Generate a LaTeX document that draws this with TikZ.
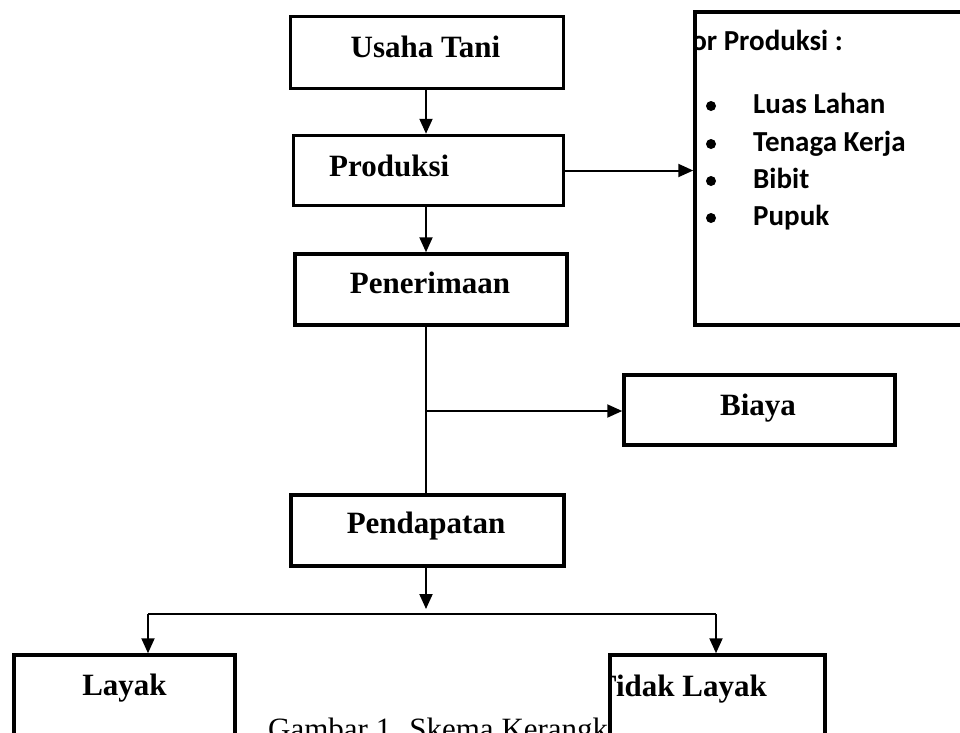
\documentclass[tikz,border=0pt]{standalone}
\usepackage{fontspec}
\setmainfont{Liberation Serif}
\newfontfamily\calfont{Carlito}
\usetikzlibrary{arrows.meta}
\tikzset{
  box/.style={draw, line width=3.5pt, fill=white, inner sep=0pt, rectangle},
  lbl/.style={font=\fontsize{31}{37}\selectfont\bfseries, inner sep=0pt, anchor=base},
  itm/.style={font=\calfont\fontsize{29}{34}\selectfont\bfseries, inner sep=0pt, anchor=base west},
  conn/.style={line width=2pt},
  arr/.style={line width=2pt, -{Triangle[length=15pt,width=13pt]}},
}
\begin{document}
\begin{tikzpicture}[x=1pt,y=-1pt]
\useasboundingbox (0,0) rectangle (960,732);
\clip (0,0) rectangle (960,732);
% boxes
\node[box, minimum width=273pt, minimum height=72pt] (ut) at (427,52.5) {};
\node[box, minimum width=270pt, minimum height=70pt] (prod) at (428.5,170.5) {};
\node[box, minimum width=272pt, minimum height=71pt] (pen) at (431,289.5) {};
\node[box, minimum width=273pt, minimum height=71pt] (pend) at (427.5,530.5) {};
\node[box, minimum width=271pt, minimum height=70pt] (biaya) at (759.5,410) {};
\node[box, minimum width=320pt, minimum height=313pt] (fak) at (855,168.5) {};
% labels
\node[lbl] (tut) at (425.5,57) {Usaha Tani};
\node[lbl, anchor=base west] (tprod) at (329,176) {Produksi};
\node[lbl] (tpen) at (430,293) {Penerimaan};
\node[lbl] (tpend) at (426,533) {Pendapatan};
\node[lbl] (tbiaya) at (758,415) {Biaya};
% faktor produksi content
\begin{scope}
\clip ([xshift=1.5pt]fak.north west) rectangle (fak.south east);
\node[itm, anchor=base east] (tfak) at (843,50) {Faktor Produksi :};
\end{scope}
\foreach \y/\t [count=\i] in {113/Luas Lahan,151/Tenaga Kerja,188/Bibit,225/Pupuk}{
  \fill (711,\y-7) circle (5pt);
  \node[itm] (it\i) at (753,\y) {\t};
}
% caption
\node[font=\fontsize{31}{37}\selectfont, inner sep=0pt, anchor=base west] (cap) at (268,739) {Gambar 1. Skema Kerangka};
% bottom boxes
\node[box, minimum width=221pt, minimum height=150pt] (layak) at (124.5,730) {};
\node[box, minimum width=215pt, minimum height=150pt] (tidak) at (717.5,730) {};
\node[lbl] (tlayak) at (124.5,695) {Layak};
\begin{scope}
\clip ([xshift=3.5pt]tidak.north west) rectangle (tidak.south east);
\node[lbl, anchor=base east] (ttidak) at (767,696) {Tidak Layak};
\end{scope}
% connectors
\coordinate (br) at (426,411);
\coordinate (j) at (426,609);
\coordinate (hl) at (148,614);
\coordinate (hr) at (716,614);
\draw[arr] (426,0 |- ut.south) -- (426,0 |- prod.north);
\draw[arr] (426,0 |- prod.south) -- (426,0 |- pen.north);
\draw[arr] (prod.east) -- (fak.west |- prod.east);
\draw[conn] (426,0 |- pen.south) -- (426,0 |- pend.north);
\draw[arr] (br) -- (biaya.west |- br);
\draw[arr] (426,0 |- pend.south) -- (j);
\draw[conn] (hl) -- (hr);
\draw[arr] (hl) -- (hl |- layak.north);
\draw[arr] (hr) -- (hr |- tidak.north);
\end{tikzpicture}
\end{document}
